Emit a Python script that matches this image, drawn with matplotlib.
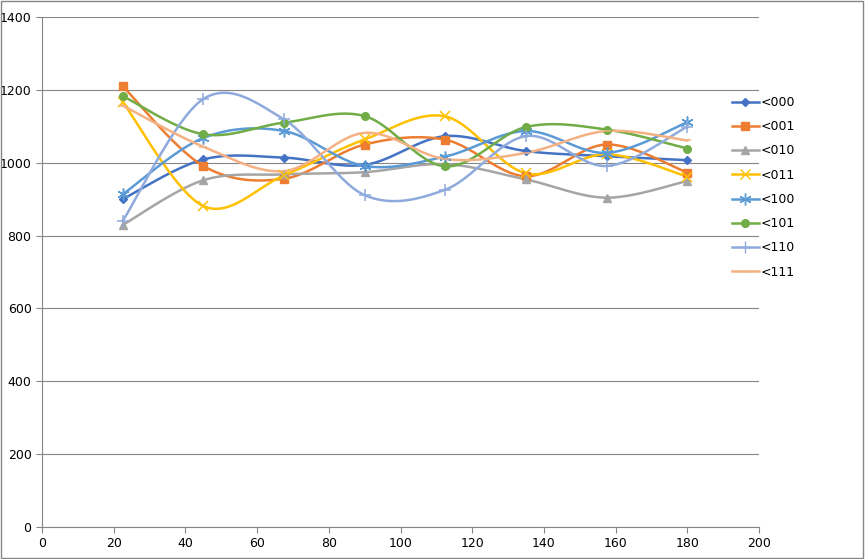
import numpy as np
import matplotlib
matplotlib.use("Agg")
import matplotlib.pyplot as plt

# angles on x, one series per code
angles = [22.5, 45, 67.5, 90, 112.5, 135, 157.5, 180]
labels = ["<000", "<001", "<010", "<011", "<100", "<101", "<110", "<111"]

s000 = [900, 1009, 1014, 994, 1073, 1032, 1018, 1007]
s001 = [1210, 991, 956, 1050, 1063, 963, 1050, 973]
s010 = [829, 952, 968, 974, 996, 954, 904, 950]
s011 = [1167, 881, 965, 1064, 1127, 971, 1023, 962]
s100 = [913, 1068, 1087, 991, 1017, 1087, 1027, 1111]
s101 = [1183, 1078, 1110, 1128, 990, 1098, 1091, 1039]
s110 = [840, 1175, 1119, 911, 926, 1073, 991, 1099]
s111 = [1157, 1044, 977, 1082, 1010, 1027, 1087, 1061]

series = [s000, s001, s010, s011, s100, s101, s110, s111]
colors = ["#4472C4", "#ED7D31", "#A5A5A5", "#FFC000",
          "#5B9BD5", "#70AD47", "#8FAADC", "#F4B183"]
markers = ["D", "s", "^", "x", (6, 2, 0), "o", "+", "_"]
msizes = [4.5, 5.5, 5.5, 7.5, 8.5, 5.5, 8.5, 6]


def smooth(x, y, n=30):
    # excel-style smoothed line (catmull-rom through the points)
    x = np.asarray(x, float)
    y = np.asarray(y, float)
    px = np.concatenate([[x[0]], x, [x[-1]]])
    py = np.concatenate([[y[0]], y, [y[-1]]])
    xs, ys = [], []
    t = np.linspace(0, 1, n)
    for i in range(1, len(px) - 2):
        p0, p1, p2, p3 = px[i - 1], px[i], px[i + 1], px[i + 2]
        q0, q1, q2, q3 = py[i - 1], py[i], py[i + 1], py[i + 2]
        c1x, c1y = p1 + (p2 - p0) / 6, q1 + (q2 - q0) / 6
        c2x, c2y = p2 - (p3 - p1) / 6, q2 - (q3 - q1) / 6
        bx = (1 - t)**3 * p1 + 3 * (1 - t)**2 * t * c1x + 3 * (1 - t) * t**2 * c2x + t**3 * p2
        by = (1 - t)**3 * q1 + 3 * (1 - t)**2 * t * c1y + 3 * (1 - t) * t**2 * c2y + t**3 * q2
        xs.extend(bx)
        ys.extend(by)
    return np.array(xs), np.array(ys)


fig = plt.figure(figsize=(8.65, 5.59), dpi=100)
ax = fig.add_axes([42 / 865, 32 / 559, 717 / 865, 510 / 559])

for vals, lab, c, m, ms in zip(series, labels, colors, markers, msizes):
    sx, sy = smooth(angles, vals)
    ax.plot(sx, sy, color=c, lw=1.8, zorder=2)
    ax.plot(angles, vals, ls="none", marker=m, color=c, ms=ms,
            mew=1.1 if m in ("x", "+", (6, 2, 0), "_") else 1, zorder=3)
    ax.plot([], [], color=c, lw=1.8, marker=m, ms=ms, label=lab)

ax.set_xlim(0, 200)
ax.set_ylim(0, 1400)
ax.set_xticks(range(0, 201, 20))
ax.set_yticks(range(0, 1401, 200))
ax.grid(axis="y", color="#868686", lw=0.8)
ax.set_axisbelow(True)
for sp in ["top", "right"]:
    ax.spines[sp].set_visible(False)
for sp in ["left", "bottom"]:
    ax.spines[sp].set_color("#868686")
ax.tick_params(direction="out", length=4, color="#868686", labelsize=9)

ax.legend(loc="upper left", bbox_to_anchor=(0.955, 0.855), frameon=False,
          fontsize=9, handlelength=2.2, handletextpad=0.1, labelspacing=0.9,
          borderaxespad=0)

fig.patches.append(plt.Rectangle((0.001, 0.001), 0.997, 0.997, transform=fig.transFigure,
                                 fill=False, edgecolor="#868686", lw=1))
fig.savefig("out.png", dpi=100)
